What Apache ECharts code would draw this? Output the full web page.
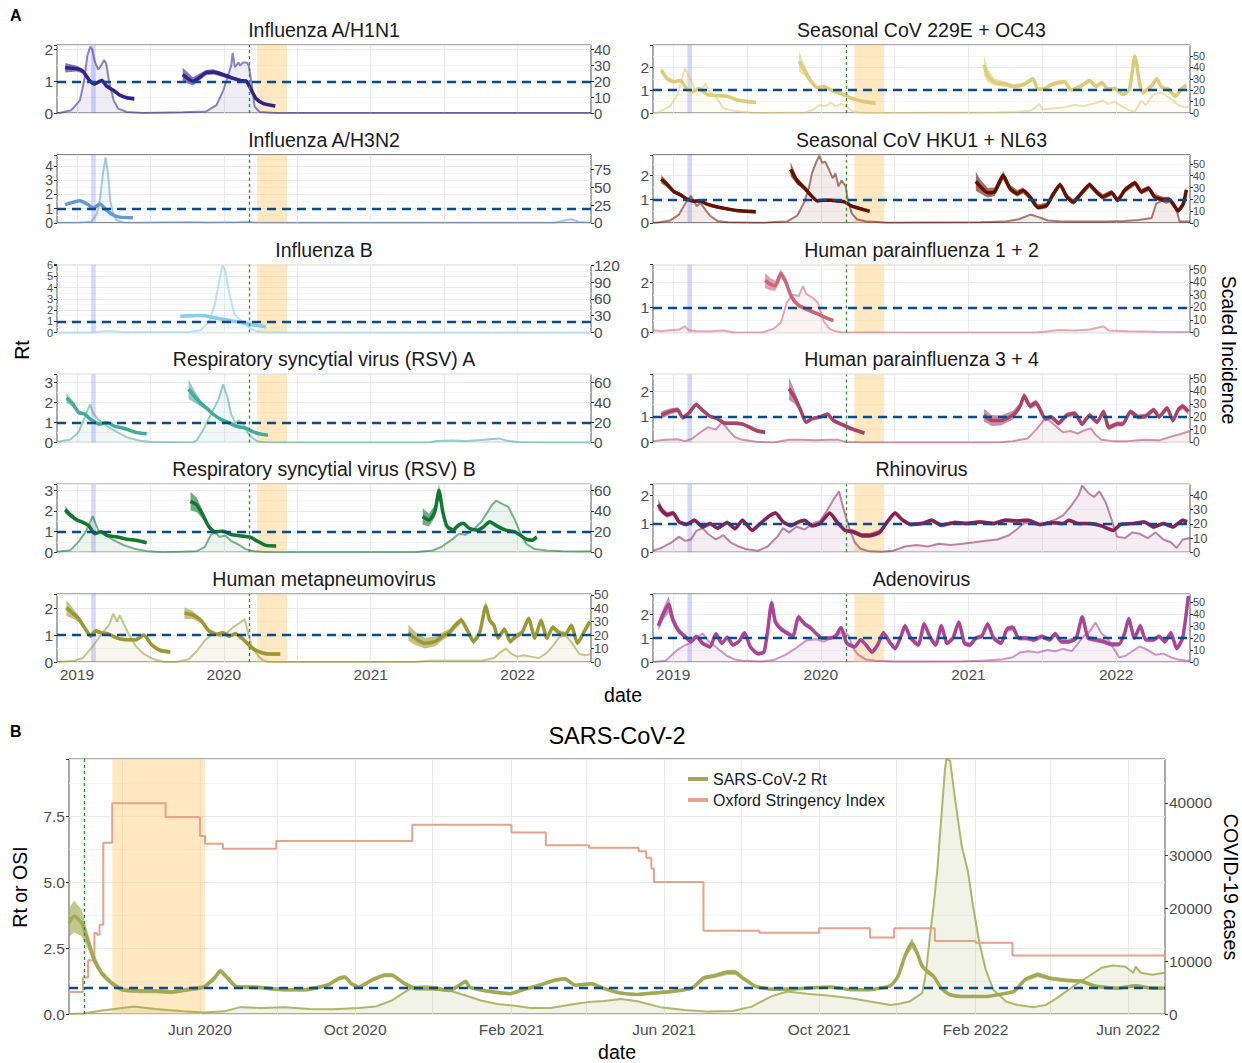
<!DOCTYPE html>
<html><head><meta charset="utf-8">
<script src="https://cdn.jsdelivr.net/npm/echarts@6/dist/echarts.min.js"></script>
<style>html,body{margin:0;padding:0;background:#fff}#c{width:1242px;height:1063px}</style>
</head><body><div id="c"></div>
<script>
// ---------- Panel A data: x in decimal years; Rt rows = [t, mean, half-width of CI]; incidence rows = [t, scaled incidence]
const YEAR_LABELS = [2019, 2020, 2021, 2022];
const YEAR_GRID = [2019, 2019.5, 2020, 2020.5, 2021, 2021.5, 2022];
const BLUE_BAND = [2019.097, 2019.128];
const GREEN_LINE = 2020.167;
const ORANGE_BAND = [2020.227, 2020.43];

const RT_H1N1 = [
 [[2018.92,1.43,0.15],[2019.0,1.40,0.09],[2019.04,1.32,0.08],[2019.09,1.0,0.07],[2019.12,0.92,0.06],[2019.17,1.03,0.06],[2019.2,0.86,0.05],[2019.25,0.71,0.05],[2019.29,0.57,0.05],[2019.34,0.48,0.05],[2019.39,0.45,0.06]],
 [[2019.72,1.21,0.22],[2019.79,1.0,0.13],[2019.88,1.28,0.09],[2019.93,1.3,0.08],[2020.02,1.17,0.07],[2020.06,1.1,0.06],[2020.12,1.02,0.05],[2020.155,1.0,0.05],[2020.19,0.7,0.05],[2020.22,0.45,0.05],[2020.27,0.3,0.05],[2020.35,0.22,0.05]]
];
const INC_H1N1 = [[2018.864,0],[2018.88,0],[2018.96,1.7],[2019.02,8],[2019.05,21],[2019.07,36],[2019.09,42],[2019.105,40],[2019.12,33],[2019.145,27.5],[2019.17,31],[2019.185,33.5],[2019.2,31],[2019.22,19],[2019.25,8],[2019.28,2.8],[2019.34,0.6],[2019.45,0],[2019.72,0.4],[2019.88,1],[2019.95,5],[2019.995,14],[2020.03,24],[2020.05,30],[2020.06,38],[2020.075,29],[2020.1,32],[2020.11,30],[2020.13,32],[2020.155,32],[2020.17,30],[2020.19,18],[2020.21,4],[2020.245,0.6],[2020.35,0],[2022.5,0]];

const RT_H3N2 = [
 [[2018.92,1.28,0.1],[2019.02,1.55,0.08],[2019.077,1.27,0.07],[2019.11,1.03,0.06],[2019.156,1.32,0.06],[2019.19,1.0,0.05],[2019.236,0.6,0.05],[2019.29,0.4,0.05],[2019.38,0.36,0.05]]
];
const INC_H3N2 = [[2018.864,0],[2019.0,0],[2019.06,1],[2019.1,2],[2019.134,12],[2019.156,32],[2019.177,70],[2019.195,92],[2019.211,70],[2019.226,32],[2019.247,12],[2019.27,4],[2019.32,0.5],[2019.4,0],[2019.6,0.6],[2019.75,1],[2019.9,0.4],[2020.1,1],[2020.17,1.6],[2020.22,0.4],[2020.3,0],[2022.25,0],[2022.33,4],[2022.37,5],[2022.42,1],[2022.5,0]];

const RT_FLUB = [
 [[2019.704,1.46,0.14],[2019.815,1.52,0.13],[2019.87,1.5,0.13],[2019.926,1.34,0.12],[2019.995,1.18,0.12],[2020.065,1.02,0.12],[2020.148,0.84,0.12],[2020.2,0.68,0.12],[2020.286,0.53,0.12]]
];
const INC_FLUB = [[2018.864,0],[2019.1,0],[2019.18,2.4],[2019.22,3],[2019.29,1.5],[2019.35,0.5],[2019.7,0.5],[2019.76,1],[2019.84,4],[2019.9,20],[2019.94,52],[2019.967,90],[2019.99,120],[2020.01,110],[2020.037,70],[2020.07,34],[2020.106,24],[2020.148,14],[2020.19,6],[2020.23,2],[2020.29,0.4],[2022.5,0]];

const RT_RSVA = [
 [[2018.928,2.22,0.25],[2018.97,1.95,0.15],[2019.01,1.5,0.1],[2019.05,1.43,0.08],[2019.094,1.15,0.07],[2019.15,0.92,0.06],[2019.205,0.98,0.06],[2019.26,0.8,0.06],[2019.316,0.71,0.06],[2019.4,0.5,0.06],[2019.474,0.43,0.06]],
 [[2019.76,2.66,0.5],[2019.8,2.3,0.3],[2019.843,1.95,0.15],[2019.885,1.7,0.1],[2019.926,1.42,0.08],[2019.98,1.15,0.07],[2020.037,0.98,0.06],[2020.09,0.8,0.06],[2020.148,0.71,0.06],[2020.2,0.53,0.06],[2020.26,0.4,0.06],[2020.3,0.36,0.06]]
];
const INC_RSVA = [[2018.864,0.4],[2018.955,3],[2019.01,10],[2019.05,24],[2019.08,35],[2019.09,38],[2019.107,30],[2019.15,22],[2019.19,18],[2019.23,14],[2019.29,9],[2019.34,5],[2019.43,1.6],[2019.51,0.4],[2019.79,0],[2019.815,2],[2019.857,12],[2019.885,20],[2019.926,32],[2019.967,44],[2019.995,58],[2020.023,46],[2020.05,28],[2020.078,20],[2020.106,22],[2020.134,18],[2020.16,10],[2020.19,5],[2020.23,1],[2020.3,0],[2021.4,0],[2021.45,1.5],[2021.55,2],[2021.65,1.5],[2021.75,2.5],[2021.87,4],[2021.92,2],[2022.0,0.5],[2022.1,0],[2022.5,0]];

const RT_RSVB = [
 [[2018.92,2.06,0.2],[2018.956,1.8,0.12],[2019.0,1.56,0.1],[2019.04,1.45,0.08],[2019.08,1.29,0.07],[2019.12,0.9,0.06],[2019.163,0.99,0.06],[2019.205,0.82,0.06],[2019.274,0.74,0.06],[2019.34,0.63,0.06],[2019.4,0.58,0.06],[2019.474,0.46,0.06]],
 [[2019.773,2.47,0.45],[2019.815,2.3,0.35],[2019.857,1.81,0.2],[2019.898,1.24,0.1],[2019.94,0.99,0.08],[2019.995,1.02,0.07],[2020.05,0.86,0.06],[2020.12,0.79,0.06],[2020.176,0.74,0.06],[2020.23,0.53,0.06],[2020.287,0.33,0.06],[2020.356,0.3,0.06]],
 [[2021.354,1.73,0.4],[2021.396,1.56,0.3],[2021.437,1.98,0.3],[2021.465,3.0,0.35],[2021.49,1.98,0.2],[2021.52,1.24,0.12],[2021.56,1.07,0.1],[2021.6,1.32,0.09],[2021.63,1.4,0.08],[2021.673,1.15,0.07],[2021.73,1.07,0.07],[2021.77,1.24,0.07],[2021.81,1.48,0.07],[2021.867,1.24,0.06],[2021.92,1.07,0.06],[2021.98,0.99,0.06],[2022.02,0.82,0.06],[2022.06,0.63,0.07],[2022.1,0.58,0.08],[2022.13,0.74,0.1]]
];
const INC_RSVB = [[2018.864,0.4],[2018.956,2],[2019.01,10],[2019.05,18],[2019.08,26],[2019.107,35],[2019.126,28],[2019.15,20],[2019.19,17],[2019.247,12],[2019.316,7],[2019.4,3],[2019.48,1],[2019.59,0],[2019.815,1],[2019.87,5],[2019.912,17],[2019.94,19],[2019.97,15],[2020.01,16],[2020.05,11],[2020.106,7],[2020.148,3],[2020.2,1],[2020.26,0.4],[2020.35,0],[2021.3,0],[2021.367,1],[2021.42,1.6],[2021.48,5],[2021.52,9],[2021.56,13],[2021.6,18],[2021.645,17],[2021.7,22],[2021.756,30],[2021.8,40],[2021.826,46],[2021.854,50],[2021.895,47],[2021.937,44],[2021.98,32],[2022.02,18],[2022.06,8],[2022.117,3],[2022.2,1.6],[2022.31,1],[2022.42,0.6],[2022.5,1]];

const RT_HMPV = [
 [[2018.928,2.01,0.3],[2018.97,1.82,0.2],[2019.01,1.62,0.12],[2019.05,1.29,0.09],[2019.094,0.96,0.07],[2019.127,1.16,0.07],[2019.163,1.09,0.06],[2019.22,1.03,0.06],[2019.274,0.89,0.06],[2019.33,0.83,0.06],[2019.4,0.83,0.06],[2019.455,1.0,0.06],[2019.51,0.63,0.07],[2019.566,0.43,0.08],[2019.635,0.37,0.08]],
 [[2019.732,1.82,0.22],[2019.787,1.75,0.15],[2019.843,1.55,0.1],[2019.898,1.16,0.08],[2019.954,1.03,0.07],[2019.995,1.09,0.07],[2020.037,0.96,0.06],[2020.078,1.05,0.06],[2020.134,0.83,0.06],[2020.19,0.53,0.06],[2020.245,0.37,0.07],[2020.3,0.3,0.07],[2020.384,0.3,0.07]],
 [[2021.257,1.09,0.3],[2021.3,0.89,0.25],[2021.367,0.7,0.2],[2021.437,0.76,0.18],[2021.49,0.96,0.15],[2021.534,1.09,0.14],[2021.576,1.36,0.13],[2021.617,1.55,0.12],[2021.66,1.16,0.12],[2021.7,0.76,0.12],[2021.742,1.09,0.12],[2021.784,2.08,0.2],[2021.81,1.55,0.12],[2021.84,1.36,0.1],[2021.867,0.89,0.1],[2021.91,1.22,0.1],[2021.95,0.76,0.1],[2021.99,0.96,0.1],[2022.03,1.09,0.1],[2022.075,1.62,0.1],[2022.117,0.89,0.1],[2022.16,1.55,0.1],[2022.2,0.89,0.1],[2022.24,1.29,0.1],[2022.283,1.09,0.1],[2022.325,1.03,0.1],[2022.366,1.36,0.1],[2022.408,0.7,0.1],[2022.45,1.09,0.1],[2022.49,1.49,0.12]]
];
const INC_HMPV = [[2018.864,0],[2018.98,1],[2019.04,3],[2019.094,10],[2019.136,16],[2019.177,22],[2019.22,28],[2019.247,36],[2019.274,30],[2019.29,35],[2019.316,29],[2019.357,20],[2019.4,12],[2019.455,6],[2019.524,2],[2019.593,0],[2019.677,0],[2019.76,2],[2019.815,8],[2019.87,16],[2019.926,21],[2019.98,19],[2020.023,22],[2020.065,26],[2020.106,29],[2020.142,32],[2020.16,24],[2020.19,12],[2020.23,5],[2020.27,1],[2020.3,0],[2021.3,0],[2021.396,1],[2021.5,1],[2021.756,1],[2021.84,3],[2021.88,7],[2021.92,10],[2021.96,6],[2022.0,4],[2022.04,5],[2022.09,4],[2022.145,3],[2022.2,7],[2022.24,12],[2022.28,18],[2022.325,20],[2022.366,15],[2022.42,6],[2022.46,5],[2022.5,6]];

const RT_229E = [
 [[2018.92,1.88,0.15],[2018.96,1.5,0.1],[2019.005,1.37,0.08],[2019.05,1.42,0.07],[2019.095,1.03,0.06],[2019.13,0.92,0.06],[2019.175,1.07,0.06],[2019.23,0.81,0.06],[2019.3,0.76,0.06],[2019.37,0.73,0.06],[2019.43,0.58,0.07],[2019.5,0.5,0.08],[2019.56,0.46,0.08]],
 [[2019.853,2.26,0.45],[2019.89,1.88,0.25],[2019.93,1.42,0.12],[2019.977,1.11,0.08],[2020.02,1.16,0.07],[2020.07,1.0,0.07],[2020.11,0.92,0.07],[2020.17,0.76,0.07],[2020.226,0.61,0.07],[2020.29,0.5,0.08],[2020.37,0.43,0.08]],
 [[2021.104,2.1,0.45],[2021.13,1.65,0.3],[2021.177,1.34,0.15],[2021.245,1.27,0.12],[2021.31,1.16,0.1],[2021.38,1.27,0.1],[2021.437,1.5,0.1],[2021.47,1.04,0.09],[2021.516,1.07,0.09],[2021.57,1.27,0.09],[2021.65,1.37,0.09],[2021.696,1.0,0.09],[2021.764,1.19,0.09],[2021.82,1.42,0.09],[2021.865,1.16,0.09],[2021.9,1.34,0.09],[2021.945,1.04,0.09],[2021.99,1.07,0.09],[2022.047,0.81,0.09],[2022.09,1.04,0.09],[2022.127,2.49,0.15],[2022.16,1.27,0.1],[2022.18,0.89,0.1],[2022.24,1.19,0.1],[2022.274,1.5,0.1],[2022.31,1.11,0.1],[2022.353,1.04,0.1],[2022.4,0.73,0.1],[2022.44,1.04,0.1],[2022.475,1.22,0.12]]
];
const INC_229E = [[2018.864,0],[2018.89,0],[2018.98,6],[2019.03,16],[2019.06,30],[2019.08,39],[2019.12,29],[2019.15,20],[2019.2,22],[2019.22,26],[2019.24,20],[2019.3,12],[2019.344,4],[2019.41,2],[2019.52,0.4],[2019.6,0],[2019.89,0.4],[2019.95,3],[2019.99,7],[2020.03,6],[2020.07,9],[2020.1,6],[2020.14,8],[2020.17,6],[2020.21,2],[2020.255,0.4],[2020.35,0],[2021.177,0.4],[2021.31,1],[2021.42,2],[2021.455,5],[2021.48,8],[2021.5,3],[2021.57,4],[2021.65,5],[2021.72,7],[2021.78,6],[2021.865,9],[2021.91,11],[2021.945,8],[2021.99,10],[2022.036,6],[2022.08,3],[2022.127,1],[2022.17,11],[2022.2,7],[2022.25,16],[2022.3,18],[2022.33,16],[2022.375,12],[2022.42,7],[2022.47,5],[2022.5,6]];

const RT_HKU1 = [
 [[2018.92,1.85,0.18],[2018.96,1.63,0.12],[2019.005,1.33,0.09],[2019.05,1.19,0.08],[2019.095,1.0,0.07],[2019.14,0.92,0.06],[2019.185,0.93,0.06],[2019.23,0.79,0.06],[2019.3,0.67,0.06],[2019.37,0.59,0.06],[2019.43,0.52,0.07],[2019.5,0.49,0.07],[2019.56,0.47,0.07]],
 [[2019.796,2.27,0.3],[2019.84,1.78,0.15],[2019.89,1.48,0.1],[2019.93,1.19,0.08],[2019.977,0.93,0.06],[2020.02,0.96,0.06],[2020.07,0.96,0.06],[2020.11,0.93,0.06],[2020.16,0.89,0.06],[2020.2,0.74,0.06],[2020.245,0.64,0.06],[2020.29,0.56,0.07],[2020.33,0.49,0.07]],
 [[2021.05,1.76,0.4],[2021.08,1.54,0.3],[2021.13,1.28,0.2],[2021.177,1.32,0.18],[2021.235,2.01,0.18],[2021.28,1.47,0.15],[2021.33,1.25,0.14],[2021.37,1.37,0.13],[2021.416,1.1,0.12],[2021.47,0.66,0.12],[2021.53,0.74,0.12],[2021.57,1.18,0.12],[2021.62,1.62,0.12],[2021.666,1.1,0.12],[2021.71,0.88,0.12],[2021.764,1.25,0.12],[2021.82,1.62,0.12],[2021.865,1.32,0.12],[2021.91,1.1,0.12],[2021.97,1.28,0.12],[2022.01,0.96,0.12],[2022.06,1.4,0.12],[2022.127,1.69,0.12],[2022.17,1.32,0.12],[2022.22,1.47,0.12],[2022.26,1.1,0.12],[2022.32,0.99,0.12],[2022.36,0.99,0.12],[2022.42,0.51,0.1],[2022.455,0.81,0.12],[2022.475,1.4,0.15]]
];
const INC_HKU1 = [[2018.864,0],[2018.89,0],[2018.98,2],[2019.04,7],[2019.08,16],[2019.12,23],[2019.14,19],[2019.16,14],[2019.185,17],[2019.22,11],[2019.25,6],[2019.3,1.6],[2019.37,0.4],[2019.55,0],[2019.62,0],[2019.69,0.6],[2019.77,1],[2019.84,6],[2019.89,18],[2019.92,30],[2019.94,42],[2019.97,52],[2019.99,57],[2020.01,51],[2020.03,52],[2020.06,44],[2020.08,38],[2020.1,42],[2020.12,31],[2020.14,36],[2020.17,31],[2020.18,21],[2020.21,8],[2020.245,3],[2020.31,1],[2020.38,0.6],[2020.45,0],[2021.08,0.4],[2021.245,1],[2021.34,3],[2021.42,7],[2021.47,5],[2021.54,2],[2021.65,1],[2021.8,1],[2021.92,1],[2022.06,1.6],[2022.15,2.4],[2022.24,4],[2022.27,16],[2022.31,19],[2022.34,17],[2022.37,19],[2022.41,10],[2022.43,1],[2022.5,1]];

const RT_PIV12 = [
 [[2019.623,2.07,0.3],[2019.655,1.93,0.25],[2019.693,1.86,0.2],[2019.73,2.35,0.18],[2019.764,2.0,0.12],[2019.8,1.44,0.1],[2019.85,1.08,0.08],[2019.9,0.94,0.08],[2019.955,0.8,0.07],[2020.01,0.66,0.07],[2020.046,0.56,0.07],[2020.085,0.48,0.07]]
];
const INC_PIV12 = [[2018.864,2],[2018.92,1],[2018.99,2],[2019.04,2.4],[2019.08,5],[2019.105,2],[2019.16,1],[2019.26,1],[2019.34,1.6],[2019.42,0],[2019.6,0],[2019.68,3],[2019.73,8],[2019.77,24],[2019.81,30],[2019.85,29],[2019.88,37],[2019.9,31],[2019.94,28],[2019.98,24],[2020.02,9],[2020.06,3],[2020.1,1],[2020.15,0],[2021.45,0],[2021.51,0.6],[2021.61,2],[2021.72,1.6],[2021.82,2.4],[2021.915,5],[2021.95,1.6],[2022.08,1],[2022.27,0.6],[2022.5,0.4]];

const RT_PIV34 = [
 [[2018.92,1.07,0.15],[2018.975,1.21,0.12],[2019.03,1.28,0.1],[2019.066,0.97,0.09],[2019.105,1.14,0.08],[2019.157,1.49,0.08],[2019.196,1.28,0.07],[2019.25,1.03,0.07],[2019.3,0.93,0.07],[2019.353,0.75,0.07],[2019.42,0.75,0.07],[2019.47,0.72,0.07],[2019.523,0.58,0.08],[2019.575,0.44,0.08],[2019.623,0.4,0.08]],
 [[2019.785,2.11,0.45],[2019.824,1.76,0.25],[2019.863,1.28,0.12],[2019.9,0.79,0.08],[2019.94,0.93,0.08],[2019.994,1.0,0.08],[2020.046,1.11,0.08],[2020.085,0.86,0.08],[2020.137,0.72,0.08],[2020.19,0.58,0.08],[2020.24,0.47,0.08],[2020.295,0.37,0.08]],
 [[2021.104,1.07,0.25],[2021.157,0.86,0.22],[2021.22,0.86,0.2],[2021.3,1.07,0.17],[2021.35,1.42,0.14],[2021.377,1.83,0.14],[2021.417,1.42,0.12],[2021.457,1.56,0.12],[2021.48,1.35,0.12],[2021.52,0.93,0.1],[2021.56,1.0,0.1],[2021.61,0.75,0.1],[2021.665,1.07,0.1],[2021.72,1.14,0.1],[2021.77,0.72,0.1],[2021.82,1.07,0.1],[2021.87,0.79,0.1],[2021.915,1.21,0.1],[2021.95,0.58,0.1],[2022.006,0.72,0.1],[2022.045,0.72,0.1],[2022.097,1.21,0.1],[2022.15,1.0,0.1],[2022.2,1.03,0.1],[2022.254,1.28,0.1],[2022.29,1.0,0.1],[2022.345,1.35,0.1],[2022.384,0.86,0.1],[2022.42,1.28,0.1],[2022.45,1.42,0.12],[2022.489,1.21,0.12]]
];
const INC_PIV34 = [[2018.864,1],[2018.95,2],[2019.03,2.4],[2019.08,1],[2019.13,3],[2019.185,8],[2019.236,12],[2019.29,10],[2019.33,16],[2019.38,9],[2019.42,4],[2019.47,2],[2019.575,0.4],[2019.68,0],[2019.785,2],[2019.86,2],[2019.97,1.6],[2020.05,2],[2020.12,2],[2020.17,0.4],[2020.3,0],[2021.2,0],[2021.3,1],[2021.4,3],[2021.457,10],[2021.5,16],[2021.52,19],[2021.56,16],[2021.6,12],[2021.64,8],[2021.69,9],[2021.74,7],[2021.795,10],[2021.83,11],[2021.86,6],[2021.9,2],[2021.98,1],[2022.08,1],[2022.19,2],[2022.29,1.6],[2022.384,5],[2022.42,6],[2022.5,9]];

const RT_RHINO = [
 [[2018.9,1.68,0.2],[2018.93,1.44,0.12],[2018.96,1.32,0.1],[2019.0,1.38,0.08],[2019.04,1.07,0.07],[2019.09,0.98,0.07],[2019.145,1.13,0.07],[2019.2,0.89,0.07],[2019.25,1.01,0.07],[2019.3,0.85,0.07],[2019.366,1.05,0.07],[2019.42,0.83,0.07],[2019.47,1.13,0.07],[2019.536,0.77,0.07],[2019.59,1.01,0.07],[2019.654,1.29,0.07],[2019.693,1.38,0.07],[2019.745,1.07,0.07],[2019.798,0.93,0.06],[2019.85,1.07,0.06],[2019.89,1.13,0.06],[2019.94,0.93,0.06],[2019.994,1.01,0.06],[2020.06,1.38,0.06],[2020.11,1.07,0.06],[2020.164,0.77,0.07],[2020.216,0.73,0.08],[2020.28,0.59,0.09],[2020.334,0.59,0.09],[2020.4,0.71,0.09],[2020.45,1.07,0.09],[2020.503,1.38,0.08],[2020.555,1.13,0.07],[2020.608,0.98,0.07],[2020.686,1.01,0.07],[2020.75,1.13,0.07],[2020.817,0.95,0.07],[2020.908,1.05,0.07],[2020.987,1.01,0.07],[2021.078,1.07,0.07],[2021.17,1.01,0.07],[2021.248,1.13,0.07],[2021.326,1.1,0.07],[2021.405,1.13,0.06],[2021.483,0.98,0.06],[2021.562,1.05,0.06],[2021.64,1.01,0.06],[2021.68,1.13,0.06],[2021.744,1.01,0.06],[2021.823,1.01,0.06],[2021.9,0.93,0.06],[2021.98,0.77,0.06],[2022.03,0.98,0.06],[2022.11,1.01,0.06],[2022.19,1.07,0.06],[2022.254,0.89,0.06],[2022.32,1.01,0.06],[2022.385,0.89,0.06],[2022.45,1.13,0.07],[2022.48,1.07,0.08]]
];
const INC_RHINO = [[2018.864,1],[2018.92,3],[2018.99,7],[2019.04,11],[2019.08,8],[2019.12,9],[2019.157,15],[2019.2,17],[2019.236,13],[2019.29,9],[2019.34,12],[2019.39,7],[2019.445,4],[2019.497,2],[2019.575,1],[2019.64,4],[2019.706,11],[2019.745,17],[2019.785,14],[2019.837,18],[2019.89,16],[2019.94,20],[2019.994,22],[2020.046,30],[2020.085,37],[2020.124,43],[2020.15,32],[2020.19,18],[2020.23,7],[2020.27,2.4],[2020.33,0.6],[2020.41,0.4],[2020.49,1],[2020.57,4],[2020.647,5],[2020.725,4],[2020.8,6],[2020.88,5],[2020.96,6],[2021.04,7],[2021.117,8],[2021.196,9],[2021.274,12],[2021.326,16],[2021.38,21],[2021.43,20],[2021.483,19],[2021.535,21],[2021.588,23],[2021.64,26],[2021.69,32],[2021.744,40],[2021.77,47],[2021.81,42],[2021.85,39],[2021.887,43],[2021.93,35],[2021.966,24],[2022.006,11],[2022.06,10],[2022.11,14],[2022.16,13],[2022.215,10],[2022.267,14],[2022.32,9],[2022.37,7],[2022.41,3],[2022.45,9],[2022.5,10]];

const RT_ADENO = [
 [[2018.9,1.51,0.2],[2018.935,2.03,0.25],[2018.97,2.4,0.35],[2019.0,1.74,0.2],[2019.04,1.29,0.12],[2019.08,1.07,0.1],[2019.12,0.85,0.08],[2019.157,1.07,0.08],[2019.2,0.78,0.08],[2019.25,0.63,0.08],[2019.29,1.18,0.08],[2019.33,0.78,0.08],[2019.366,1.03,0.08],[2019.405,0.71,0.08],[2019.445,0.85,0.08],[2019.484,1.22,0.08],[2019.523,0.63,0.08],[2019.575,0.34,0.08],[2019.615,0.41,0.08],[2019.64,1.29,0.12],[2019.667,2.47,0.2],[2019.693,1.66,0.15],[2019.732,1.37,0.12],[2019.77,1.22,0.1],[2019.81,1.07,0.1],[2019.85,1.88,0.12],[2019.89,1.59,0.1],[2019.928,1.44,0.09],[2019.97,1.18,0.08],[2020.006,1.0,0.08],[2020.06,1.0,0.08],[2020.098,1.07,0.08],[2020.137,1.44,0.08],[2020.176,0.78,0.08],[2020.23,0.63,0.08],[2020.27,0.93,0.08],[2020.307,0.71,0.08],[2020.346,0.41,0.08],[2020.385,0.71,0.08],[2020.425,1.22,0.1],[2020.464,0.85,0.1],[2020.503,0.56,0.1],[2020.543,1.07,0.1],[2020.57,1.51,0.12],[2020.608,1.0,0.1],[2020.66,0.71,0.1],[2020.7,1.59,0.12],[2020.738,1.07,0.1],[2020.777,0.71,0.1],[2020.817,1.51,0.12],[2020.856,0.78,0.1],[2020.895,1.0,0.1],[2020.934,1.66,0.12],[2020.973,0.78,0.1],[2021.01,0.71,0.1],[2021.05,1.0,0.1],[2021.09,1.07,0.1],[2021.13,1.59,0.12],[2021.17,1.0,0.1],[2021.22,0.78,0.1],[2021.26,1.37,0.12],[2021.3,1.44,0.12],[2021.34,1.0,0.1],[2021.39,1.0,0.1],[2021.444,0.93,0.1],[2021.496,1.07,0.1],[2021.55,0.93,0.1],[2021.588,1.18,0.1],[2021.627,0.85,0.1],[2021.68,0.85,0.1],[2021.73,1.0,0.1],[2021.77,1.88,0.12],[2021.81,1.0,0.1],[2021.86,0.93,0.1],[2021.915,0.85,0.1],[2021.966,0.74,0.1],[2022.02,0.74,0.1],[2022.058,1.22,0.1],[2022.085,1.81,0.12],[2022.124,1.0,0.1],[2022.163,1.51,0.12],[2022.2,0.93,0.1],[2022.254,0.93,0.1],[2022.29,1.07,0.1],[2022.33,0.85,0.1],[2022.37,1.22,0.1],[2022.41,0.56,0.1],[2022.45,1.0,0.12],[2022.489,2.76,0.3]]
];
const INC_ADENO = [[2018.864,0],[2018.95,1],[2019.0,7],[2019.04,11],[2019.08,14],[2019.12,16],[2019.157,20],[2019.2,24],[2019.236,18],[2019.275,14],[2019.314,10],[2019.366,5],[2019.42,2],[2019.47,1],[2019.6,0.4],[2019.68,1.6],[2019.76,6],[2019.837,12],[2019.9,18],[2019.97,19],[2020.02,17],[2020.07,20],[2020.11,22],[2020.15,26],[2020.19,22],[2020.216,12],[2020.255,6],[2020.307,2],[2020.37,1],[2020.5,0.4],[2020.7,0.4],[2020.96,0.6],[2021.09,1],[2021.22,2],[2021.3,4],[2021.35,8],[2021.405,9],[2021.47,8],[2021.535,10],[2021.588,9],[2021.64,11],[2021.7,9],[2021.744,16],[2021.783,22],[2021.823,26],[2021.86,33],[2021.9,24],[2021.94,20],[2021.98,12],[2022.02,4],[2022.06,5],[2022.11,9],[2022.16,13],[2022.215,10],[2022.267,6],[2022.32,7],[2022.37,4],[2022.42,2],[2022.48,1],[2022.5,1]];

// ---------- Panel B data (dates)
const B_LABELS = ['2020-06-01','2020-10-01','2021-02-01','2021-06-01','2021-10-01','2022-02-01','2022-06-01'];
const B_GRID = ['2020-04-01','2020-06-01','2020-08-01','2020-10-01','2020-12-01','2021-02-01','2021-04-01','2021-06-01','2021-08-01','2021-10-01','2021-12-01','2022-02-01','2022-04-01','2022-06-01'];
const B_CASE_TICKS = [0,10000,20000,30000,40000];
const B_RANGE = ['2020-02-19','2022-06-30'];
const B_ORANGE = ['2020-03-24','2020-06-05'];
const B_GREEN = '2020-03-02';
const RT_SARS = [['2020-02-19',3.45,0.55],['2020-02-23',3.7,0.6],['2020-02-29',3.45,0.5],['2020-03-05',2.75,0.3],['2020-03-10',2.04,0.2],['2020-03-16',1.53,0.12],['2020-03-24',1.15,0.1],['2020-04-01',0.92,0.08],['2020-04-14',0.87,0.08],['2020-04-27',0.87,0.08],['2020-05-10',0.83,0.08],['2020-05-22',0.92,0.08],['2020-06-04',1.02,0.08],['2020-06-12',1.34,0.1],['2020-06-17',1.63,0.1],['2020-06-22',1.4,0.1],['2020-06-30',1.02,0.08],['2020-07-13',1.02,0.07],['2020-07-26',0.96,0.07],['2020-08-07',0.92,0.07],['2020-08-23',0.92,0.07],['2020-09-09',1.09,0.07],['2020-09-18',1.34,0.08],['2020-09-23',1.4,0.08],['2020-09-28',1.15,0.07],['2020-10-04',1.02,0.07],['2020-10-14',1.28,0.07],['2020-10-24',1.47,0.08],['2020-10-30',1.47,0.08],['2020-11-09',1.15,0.07],['2020-11-18',0.96,0.06],['2020-12-01',0.96,0.06],['2020-12-14',0.89,0.06],['2020-12-24',1.15,0.06],['2020-12-27',1.24,0.06],['2020-12-30',1.02,0.06],['2021-01-07',0.92,0.06],['2021-01-18',0.83,0.06],['2021-01-31',0.77,0.06],['2021-02-10',0.92,0.06],['2021-02-23',1.09,0.06],['2021-03-07',1.28,0.07],['2021-03-15',1.34,0.07],['2021-03-23',1.09,0.06],['2021-04-05',1.15,0.06],['2021-04-15',0.96,0.06],['2021-04-28',0.79,0.06],['2021-05-11',0.74,0.06],['2021-05-22',0.79,0.06],['2021-06-07',0.85,0.06],['2021-06-23',0.98,0.06],['2021-07-02',1.36,0.08],['2021-07-11',1.45,0.08],['2021-07-21',1.58,0.1],['2021-07-27',1.58,0.1],['2021-08-02',1.36,0.08],['2021-08-12',1.05,0.06],['2021-08-24',0.94,0.06],['2021-09-06',0.94,0.06],['2021-09-21',0.98,0.05],['2021-10-10',1.02,0.05],['2021-10-26',0.92,0.05],['2021-11-10',0.92,0.05],['2021-11-26',1.07,0.06],['2021-12-02',1.43,0.08],['2021-12-08',2.26,0.15],['2021-12-13',2.68,0.2],['2021-12-17',2.32,0.12],['2021-12-21',1.81,0.1],['2021-12-25',1.62,0.1],['2021-12-30',1.43,0.08],['2022-01-05',0.98,0.05],['2022-01-12',0.73,0.04],['2022-01-24',0.66,0.04],['2022-02-09',0.66,0.04],['2022-02-18',0.73,0.05],['2022-03-03',0.85,0.06],['2022-03-12',1.3,0.08],['2022-03-22',1.49,0.1],['2022-03-31',1.36,0.08],['2022-04-12',1.28,0.07],['2022-04-25',1.24,0.07],['2022-05-07',1.05,0.06],['2022-05-23',0.98,0.06],['2022-06-07',1.07,0.06],['2022-06-20',0.98,0.06],['2022-06-30',0.98,0.06]];
const CASES_SARS = [['2020-02-19',0],['2020-03-01',100],['2020-03-16',650],['2020-04-01',1150],['2020-04-10',1400],['2020-04-27',950],['2020-05-19',500],['2020-06-04',300],['2020-06-20',500],['2020-07-03',1300],['2020-07-19',1150],['2020-08-07',1300],['2020-08-26',950],['2020-09-14',900],['2020-10-04',1150],['2020-10-17',1400],['2020-10-30',2550],['2020-11-09',4150],['2020-11-15',5100],['2020-11-25',5250],['2020-12-04',5100],['2020-12-14',4450],['2020-12-27',3500],['2021-01-08',2550],['2021-01-21',1900],['2021-02-02',1600],['2021-02-16',1150],['2021-03-04',1150],['2021-03-20',1800],['2021-04-02',2250],['2021-04-15',2450],['2021-04-28',2850],['2021-05-11',2400],['2021-05-29',1300],['2021-06-17',750],['2021-07-06',450],['2021-07-25',550],['2021-08-09',1400],['2021-08-24',3300],['2021-09-06',4250],['2021-09-21',3850],['2021-10-10',3450],['2021-10-26',3000],['2021-11-10',2350],['2021-11-26',1700],['2021-12-02',1900],['2021-12-11',2350],['2021-12-21',3950],['2021-12-24',7800],['2021-12-27',14500],['2021-12-30',20500],['2022-01-02',27500],['2022-01-05',37000],['2022-01-08',46500],['2022-01-09',48300],['2022-01-12',48000],['2022-01-16',40500],['2022-01-21',32000],['2022-01-26',27000],['2022-01-30',20500],['2022-02-04',13500],['2022-02-09',8400],['2022-02-15',4600],['2022-02-25',2350],['2022-03-06',1700],['2022-03-19',1300],['2022-03-28',1700],['2022-04-06',3000],['2022-04-19',5250],['2022-05-01',7150],['2022-05-11',8750],['2022-05-20',9200],['2022-05-30',8950],['2022-06-05',7800],['2022-06-07',8950],['2022-06-11',7800],['2022-06-20',7450],['2022-06-30',7800]];
const OSI_SARS = [['2020-02-19',0.83],['2020-03-01',1.38],['2020-03-05',2.04],['2020-03-10',3.07],['2020-03-12',3.0],['2020-03-14',3.38],['2020-03-17',6.49],['2020-03-24',7.98],['2020-05-05',7.46],['2020-06-01',6.74],['2020-06-05',6.45],['2020-06-19',6.26],['2020-07-31',6.55],['2020-11-15',7.17],['2021-02-01',6.88],['2021-02-28',6.39],['2021-04-03',6.3],['2021-05-12',6.17],['2021-05-18',5.92],['2021-05-22',5.51],['2021-05-24',5.0],['2021-07-02',3.15],['2021-08-15',3.08],['2021-10-01',3.25],['2021-11-10',2.9],['2021-11-29',3.25],['2021-12-31',2.77],['2022-02-01',2.7],['2022-03-02',2.22],['2022-06-30',2.2]];

// ---------- panel configuration
const PANELS = [
 {name:'Influenza A/H1N1', col:0, row:0, ymax:2.15, incTicks:[0,10,20,30,40], color:'#332288', rt:RT_H1N1, inc:INC_H1N1},
 {name:'Influenza A/H3N2', col:0, row:1, ymax:4.78, incTicks:[0,25,50,75], color:'#6699CC', rt:RT_H3N2, inc:INC_H3N2},
 {name:'Influenza B', col:0, row:2, ymax:6.05, incTicks:[0,30,60,90,120], color:'#88CCEE', rt:RT_FLUB, inc:INC_FLUB},
 {name:'Respiratory syncytial virus (RSV) A', col:0, row:3, ymax:3.4, incTicks:[0,20,40,60], color:'#44AA99', rt:RT_RSVA, inc:INC_RSVA},
 {name:'Respiratory syncytial virus (RSV) B', col:0, row:4, ymax:3.3, incTicks:[0,20,40,60], color:'#117733', rt:RT_RSVB, inc:INC_RSVB},
 {name:'Human metapneumovirus', col:0, row:5, ymax:2.53, incTicks:[0,10,20,30,40,50], color:'#999933', rt:RT_HMPV, inc:INC_HMPV},
 {name:'Seasonal CoV 229E + OC43', col:1, row:0, ymax:2.98, incTicks:[0,10,20,30,40,50], color:'#DDCC77', rt:RT_229E, inc:INC_229E},
 {name:'Seasonal CoV HKU1 + NL63', col:1, row:1, ymax:2.89, incTicks:[0,10,20,30,40,50], color:'#661100', rt:RT_HKU1, inc:INC_HKU1},
 {name:'Human parainfluenza 1 + 2', col:1, row:2, ymax:2.7, incTicks:[0,10,20,30,40,50], color:'#CC6677', rt:RT_PIV12, inc:INC_PIV12},
 {name:'Human parainfluenza 3 + 4', col:1, row:3, ymax:2.67, incTicks:[0,10,20,30,40,50], color:'#AA4466', rt:RT_PIV34, inc:INC_PIV34},
 {name:'Rhinovirus', col:1, row:4, ymax:2.4, incTicks:[0,10,20,30,40], color:'#882255', rt:RT_RHINO, inc:INC_RHINO},
 {name:'Adenovirus', col:1, row:5, ymax:2.84, incTicks:[0,10,20,30,40,50], color:'#AA4499', rt:RT_ADENO, inc:INC_ADENO}
];
const INC_SCALE = 20;
const X_MIN = 2018.864, X_MAX = 2022.5;

// ---------- build option
const FONT = 'Liberation Sans, Arial, Helvetica, sans-serif';
const LBL = '#4D4D4D', GRIDC = '#EBEBEB', BORDER = '#555555';
const HLINE = {color:'#0D4A8A', width:2.3, type:[9,6]};
const PANEL_H = 68;
const grids = [], xAxes = [], yAxes = [], series = [], graphics = [];
const intLabel = v => (Math.abs(v - Math.round(v)) < 1e-6 ? String(Math.round(v)) : '');
const ts = s => Date.parse(s + 'T00:00:00Z');
const fitFont = spacing => Math.max(11, Math.min(15.5, Math.round(spacing * 0.95)));

function hexA(hex, a){const n=parseInt(hex.slice(1),16);return `rgba(${(n>>16)&255},${(n>>8)&255},${n&255},${a})`;}

// Rt credible band (custom polygon through the axes' coordinate system) + mean line
function addBand(seg, xi, yi, color, z, bandAlpha, lineWidth, yMax, name, xf){
  const fx = xf || (v => v);
  const pts = seg.map(d => [fx(d[0]), Math.max(0, +(d[1]-d[2]).toFixed(3)), Math.min(yMax, +(d[1]+d[2]).toFixed(3))]);
  series.push({type:'custom', xAxisIndex:xi, yAxisIndex:yi, data:pts, encode:{x:0, y:[1,2]}, silent:true, z, clip:true,
    renderItem:(params, api) => {
      if (params.dataIndex !== 0) return null;
      const up = pts.map(p => api.coord([p[0], p[2]]));
      const lo = pts.map(p => api.coord([p[0], p[1]])).reverse();
      return {type:'polygon', shape:{points:up.concat(lo)}, style:{fill:hexA(color, bandAlpha)}};
    }});
  const s = {type:'line', xAxisIndex:xi, yAxisIndex:yi, data:seg.map(d=>[fx(d[0]), d[1]]), symbol:'none', smooth:0.2,
    lineStyle:{color, width:lineWidth}, itemStyle:{color}, silent:true, z:z+1};
  if (name) s.name = name;
  series.push(s);
}

PANELS.forEach((p, i) => {
  const left = p.col === 0 ? 57 : 653;
  const width = p.col === 0 ? 534 : 537;
  const top = 45 + 109.8 * p.row;
  const leftFont = fitFont(PANEL_H / p.ymax);
  const rightFont = fitFont(PANEL_H * (p.incTicks[1] / INC_SCALE) / p.ymax);
  grids.push({left, top, width, height:PANEL_H, show:true, borderColor:BORDER, borderWidth:1, backgroundColor:'#fff', containLabel:false, outerBoundsMode:'none'});
  xAxes.push({type:'value', gridIndex:i, min:X_MIN, max:X_MAX,
    axisLine:{show:false}, axisTick:{show:false, customValues:YEAR_GRID},
    axisLabel:{show:p.row===5, customValues:YEAR_LABELS, formatter:intLabel, color:LBL, fontSize:15.5, margin:4, fontFamily:FONT, hideOverlap:false},
    splitLine:{show:true, lineStyle:{color:GRIDC, width:1}}});
  yAxes.push({type:'value', gridIndex:i, position:'left', min:0, max:p.ymax, interval:1,
    axisLine:{show:false}, axisTick:{show:true, length:3, lineStyle:{color:'#333'}},
    axisLabel:{formatter:intLabel, color:LBL, fontSize:leftFont, margin:4, fontFamily:FONT, showMinLabel:true, showMaxLabel:true, hideOverlap:false},
    splitLine:{show:true, lineStyle:{color:GRIDC, width:1}},
    minorTick:{show:false, splitNumber:2}, minorSplitLine:{show:true, lineStyle:{color:'#F2F2F2', width:0.8}}});
  yAxes.push({type:'value', gridIndex:i, position:'right', min:0, max:p.ymax*INC_SCALE,
    axisLine:{show:false}, axisTick:{show:true, length:3, customValues:p.incTicks, lineStyle:{color:'#333'}},
    axisLabel:{customValues:p.incTicks, color:LBL, fontSize:rightFont, margin:3, fontFamily:FONT, showMinLabel:true, showMaxLabel:true, hideOverlap:false},
    splitLine:{show:false}});
  const yl = 2*i, yr = 2*i+1;
  series.push({type:'line', xAxisIndex:i, yAxisIndex:yr, data:p.inc, symbol:'none', silent:true,
    lineStyle:{color:hexA(p.color,0.55), width:2}, areaStyle:{color:hexA(p.color,0.12)}, z:1});
  series.push({type:'line', xAxisIndex:i, yAxisIndex:yl, data:[], silent:true, z:2,
    markArea:{silent:true, data:[
      [{xAxis:BLUE_BAND[0], itemStyle:{color:'rgba(120,120,255,0.3)'}},{xAxis:BLUE_BAND[1]}],
      [{xAxis:ORANGE_BAND[0], itemStyle:{color:'rgba(255,205,120,0.45)'}},{xAxis:ORANGE_BAND[1]}]]},
    markLine:{silent:true, symbol:'none', label:{show:false}, animation:false,
      data:[{xAxis:GREEN_LINE, lineStyle:{color:'#2E8B2E', width:1.3, type:[3,3]}}]}});
  p.rt.forEach(seg => addBand(seg, i, yl, p.color, 3, 0.6, 3.5, p.ymax));
  series.push({type:'line', xAxisIndex:i, yAxisIndex:yl, data:[], silent:true, z:6,
    markLine:{silent:true, symbol:'none', label:{show:false}, animation:false, data:[{yAxis:1, lineStyle:HLINE}]}});
  graphics.push({type:'text', x:left+width/2, y:top-15, style:{text:p.name, font:`19.5px ${FONT}`, fill:'#1A1A1A', align:'center', verticalAlign:'middle'}});
});

// Panel B (x = UTC timestamps on a value axis)
const gB = PANELS.length;
const SARS_COL = '#A0AA52', OSI_COL = '#E5A28C';
grids.push({left:69, top:759, width:1096, height:255, show:true, borderColor:BORDER, borderWidth:1, backgroundColor:'#fff', containLabel:false, outerBoundsMode:'none'});
const MON = ['Jan','Feb','Mar','Apr','May','Jun','Jul','Aug','Sep','Oct','Nov','Dec'];
xAxes.push({type:'value', gridIndex:gB, min:ts(B_RANGE[0]), max:ts(B_RANGE[1]),
  axisLine:{show:false}, axisTick:{show:false, customValues:B_GRID.map(ts)},
  axisLabel:{customValues:B_LABELS.map(ts), color:LBL, fontSize:15.5, margin:7, fontFamily:FONT, hideOverlap:false,
    formatter:v=>{const d=new Date(v);return MON[d.getUTCMonth()]+' '+d.getUTCFullYear();}},
  splitLine:{show:true, lineStyle:{color:GRIDC, width:1}}});
yAxes.push({type:'value', gridIndex:gB, position:'left', min:0, max:9.66, interval:2.5,
  axisLine:{show:false}, axisTick:{show:true, length:3, lineStyle:{color:'#333'}},
  axisLabel:{color:LBL, fontSize:15.5, margin:4, fontFamily:FONT, showMinLabel:true, hideOverlap:false, formatter:v=>(Math.abs(v/2.5-Math.round(v/2.5))<1e-6? v.toFixed(1):'')},
  splitLine:{show:true, lineStyle:{color:GRIDC, width:1}},
  minorTick:{show:false, splitNumber:2}, minorSplitLine:{show:true, lineStyle:{color:'#F2F2F2', width:0.8}}});
yAxes.push({type:'value', gridIndex:gB, position:'right', min:0, max:48300,
  axisLine:{show:false}, axisTick:{show:true, length:3, customValues:B_CASE_TICKS, lineStyle:{color:'#333'}},
  axisLabel:{customValues:B_CASE_TICKS, color:LBL, fontSize:15.5, margin:4, fontFamily:FONT, showMinLabel:true, showMaxLabel:true, hideOverlap:false, formatter:v=>String(v)},
  splitLine:{show:false}});
const ylB = 2*gB, yrB = 2*gB+1;
series.push({type:'line', xAxisIndex:gB, yAxisIndex:ylB, data:[], silent:true, z:0,
  markArea:{silent:true, data:[[{xAxis:ts(B_ORANGE[0]), itemStyle:{color:'rgba(255,205,120,0.45)'}},{xAxis:ts(B_ORANGE[1])}]]},
  markLine:{silent:true, symbol:'none', label:{show:false}, animation:false, data:[{xAxis:ts(B_GREEN), lineStyle:{color:'#2E8B2E', width:1.3, type:[3,3]}}]}});
series.push({type:'line', xAxisIndex:gB, yAxisIndex:yrB, data:CASES_SARS.map(d=>[ts(d[0]), d[1]]), symbol:'none', silent:true,
  lineStyle:{color:hexA(SARS_COL,0.85), width:2}, areaStyle:{color:hexA(SARS_COL,0.2)}, z:1});
series.push({type:'line', name:'Oxford Stringency Index', xAxisIndex:gB, yAxisIndex:ylB, data:OSI_SARS.map(d=>[ts(d[0]), d[1]]), step:'end', symbol:'none', silent:true,
  lineStyle:{color:OSI_COL, width:2}, itemStyle:{color:OSI_COL}, z:2});
addBand(RT_SARS, gB, ylB, SARS_COL, 3, 0.65, 3.5, 9.66, 'SARS-CoV-2 Rt', ts);
series.push({type:'line', xAxisIndex:gB, yAxisIndex:ylB, data:[], silent:true, z:6,
  markLine:{silent:true, symbol:'none', label:{show:false}, animation:false, data:[{yAxis:1, lineStyle:HLINE}]}});

graphics.push(
  {type:'text', x:10, y:15, style:{text:'A', font:`bold 16px ${FONT}`, fill:'#000', verticalAlign:'middle'}},
  {type:'text', x:10, y:731, style:{text:'B', font:`bold 16px ${FONT}`, fill:'#000', verticalAlign:'middle'}},
  {type:'text', x:22, y:350, rotation:Math.PI/2, style:{text:'Rt', font:`19.5px ${FONT}`, fill:'#000', align:'center', verticalAlign:'middle'}},
  {type:'text', x:1229, y:350, rotation:-Math.PI/2, style:{text:'Scaled Incidence', font:`19.5px ${FONT}`, fill:'#000', align:'center', verticalAlign:'middle'}},
  {type:'text', x:623, y:695, style:{text:'date', font:`19.5px ${FONT}`, fill:'#000', align:'center', verticalAlign:'middle'}},
  {type:'text', x:617, y:736, style:{text:'SARS-CoV-2', font:`23.5px ${FONT}`, fill:'#000', align:'center', verticalAlign:'middle'}},
  {type:'text', x:617, y:1052, style:{text:'date', font:`19.5px ${FONT}`, fill:'#000', align:'center', verticalAlign:'middle'}},
  {type:'text', x:20, y:887, rotation:Math.PI/2, style:{text:'Rt or OSI', font:`19.5px ${FONT}`, fill:'#000', align:'center', verticalAlign:'middle'}},
  {type:'text', x:1231, y:887, rotation:-Math.PI/2, style:{text:'COVID-19 cases', font:`19.5px ${FONT}`, fill:'#000', align:'center', verticalAlign:'middle'}}
);

const chart = echarts.init(document.getElementById('c'), null, {renderer:'svg', width:1242, height:1063});
chart.setOption({
  animation:false,
  backgroundColor:'#ffffff',
  textStyle:{fontFamily:FONT},
  grid:grids, xAxis:xAxes, yAxis:yAxes, series,
  legend:{show:true, data:['SARS-CoV-2 Rt','Oxford Stringency Index'], orient:'vertical', left:683, top:766, itemGap:5,
    icon:'rect', itemWidth:20, itemHeight:4, textStyle:{fontSize:16, color:'#1A1A1A', fontFamily:FONT}, selectedMode:false},
  graphic:graphics
});
</script></body></html>
